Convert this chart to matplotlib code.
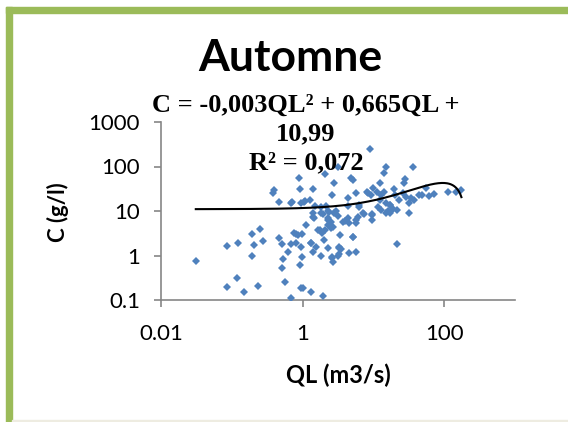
import numpy as np
import matplotlib
matplotlib.use("Agg")
import matplotlib.pyplot as plt
from matplotlib.patches import Rectangle

# ---- data ----
QL = [0.031, 0.086, 0.124, 0.086, 0.12, 0.151, 0.232, 0.191, 0.25, 0.206,
      0.276, 0.193, 0.464, 0.518, 0.528, 0.51, 0.557, 0.621, 0.693, 0.754,
      0.815, 0.99, 0.80, 0.96, 0.98, 0.92, 0.95, 1.02, 1.31, 0.69,
      1.96, 1.11, 1.30, 1.40, 1.56, 1.83, 1.44, 1.42, 1.83, 1.64,
      1.89, 1.98, 2.30, 2.56, 2.67, 2.27, 2.27, 2.50, 2.67, 2.82,
      3.18, 3.35, 3.24, 3.46, 3.18, 3.78, 4.49, 4.59, 5.76, 5.23,
      5.70, 6.01, 4.35, 2.35, 1.83, 2.16, 4.44, 4.35, 2.59, 2.82,
      1.40, 0.91, 0.94, 1.03, 1.26, 0.68, 0.46, 0.38, 0.40, 5.11,
      6.21, 7.23, 8.31, 9.46, 9.46, 9.78, 11.1, 11.5, 12.2, 12.8,
      14.3, 15.1, 15.1, 17.2, 18.7, 20.2, 23.2, 25.9, 27.3, 28.9,
      31.4, 31.4, 34.0, 43.5, 48.5, 55.2, 72.3, 115, 146, 175,
      21.3, 8.99, 15.1, 36.6, 3.21, 2.04, 0.88, 14.3, 27.9, 12.2,
      19.3, 2.25, 2.54, 3.91, 5.70, 7.47, 9.59, 3.32, 3.24, 2.59,
      1.40, 1.93, 1.74, 2.04, 5.11, 1.33, 0.86, 17.3, 15.9, 37.8,
      13.0, 21.8, 61.5, 5.70, 8.05, 9.28, 6.35, 0.716, 1.07, 1.48,
      2.32, 3.01, 17.3, 4.82]
C = [0.76, 1.63, 1.88, 0.20, 0.31, 0.15, 0.21, 2.99, 4.0, 1.72,
     2.15, 0.97, 2.51, 1.79, 0.83, 0.52, 0.25, 1.18, 1.79, 3.25,
     3.04, 3.04, 1.88, 1.58, 0.94, 0.62, 0.19, 0.19, 0.15, 0.11,
     0.123, 4.78, 1.94, 1.22, 1.58, 0.97, 7.06, 8.87, 9.16, 3.74,
     3.25, 2.23, 1.45, 0.86, 0.73, 4.84, 6.28, 5.75, 4.44, 8.87,
     7.73, 2.89, 1.45, 1.38, 0.97, 5.75, 5.29, 1.16, 1.18, 2.64,
     5.29, 7.45, 6.85, 9.35, 12.5, 12.9, 12.9, 19.3, 22.9, 43.3,
     30.8, 30.8, 14.9, 16.2, 17.7, 15.4, 16.2, 25.0, 29.6, 49.8,
     12.5, 9.16, 25.0, 8.43, 6.28, 32.4, 27.2, 12.1, 17.7, 22.9,
     27.2, 14.9, 8.87, 13.6, 10.9, 22.9, 17.7, 25.0, 41.9, 20.9,
     14.9, 8.87, 19.3, 22.9, 22.9, 32.4, 24.1, 27.2, 27.2, 29.6,
     1.81, 244, 95.9, 95.9, 99, 67.8, 56, 70.3, 51.6, 41.9,
     30.8, 6.97, 4.15, 5.88, 6.18, 8.69, 8.0, 1.55, 1.10, 0.92,
     7.33, 8.69, 3.68, 3.68, 2.61, 1.94, 2.85, 13.6, 10.0, 17.7,
     10.5, 10.5, 21.7, 25.0, 27.2, 22.9, 13.6, 15.7, 16.8, 12.9,
     10.0, 10.0, 9.0, 55.2]

trend_coef = [-0.00349, 0.665, 10.99]   # polynomial trendline (a, b, c)
x_ticks = [0.01, 1, 100]
x_tick_labels = ["0.01", "1", "100"]
y_ticks = [0.1, 1, 10, 100, 1000]
y_tick_labels = ["0.1", "1", "10", "100", "1000"]

title = "Automne"
eq_text = "C = -0,003QL² + 0,665QL +\n10,99\nR² = 0,072"
xlabel = "QL (m3/s)"
ylabel = "C (g/l)"

# ---- figure ----
W, H = 568, 422
fig = plt.figure(figsize=(W / 100, H / 100), dpi=100)
fig.patch.set_facecolor("white")

def fx(px):
    return px / W

def fy(py):
    return 1 - py / H

# outer frame (green), bottom beige line
green = "#9BBB59"
fig.patches.append(Rectangle((fx(6), 0), fx(12) - fx(6), fy(7) - 0,
                             transform=fig.transFigure, color=green, zorder=0))
fig.patches.append(Rectangle((fx(6), fy(12.5)), 1 - fx(6), fy(7) - fy(12.5),
                             transform=fig.transFigure, color=green, zorder=0))
fig.patches.append(Rectangle((fx(12), 0), 1 - fx(12), fy(420) - 0,
                             transform=fig.transFigure, color="#EEECE1", zorder=0))

ax = fig.add_axes([fx(161), fy(300), fx(515) - fx(161), fy(122) - fy(300)])
ax.set_facecolor("none")
ax.set_xscale("log")
ax.set_yscale("log")
ax.set_xlim(0.01, 1000)
ax.set_ylim(0.1, 1000)

ax.plot(QL, C, linestyle="none", marker="D", markersize=3.9,
        markerfacecolor="#4F81BD", markeredgewidth=0, color="#4F81BD", zorder=3)

qmin, qmax = min(QL), max(QL)
qq = np.logspace(np.log10(qmin), np.log10(qmax), 300)
cc = np.polyval(trend_coef, qq)
ax.plot(qq, cc, color="black", linewidth=1.5, zorder=4)

axis_gray = "#868686"
for s in ["top", "right"]:
    ax.spines[s].set_visible(False)
for s in ["left", "bottom"]:
    ax.spines[s].set_color(axis_gray)
    ax.spines[s].set_linewidth(1.2)

ax.set_xticks(x_ticks)
ax.set_xticklabels(x_tick_labels)
ax.set_yticks(y_ticks)
ax.set_yticklabels(y_tick_labels)
ax.minorticks_off()
ax.tick_params(axis="both", direction="out", length=5, width=1.2, color=axis_gray,
               labelsize=16, labelcolor="black")
ax.tick_params(axis="y", pad=10)
ax.tick_params(axis="x", pad=12)
for lab in ax.get_xticklabels() + ax.get_yticklabels():
    lab.set_family("Lato")

fig.text(fx(290), fy(58), title, ha="center", va="center",
         fontsize=32, fontweight="bold", family="Lato")
fig.text(fx(306), fy(134), eq_text, ha="center", va="center", multialignment="center",
         fontsize=19, fontweight="bold", family="Liberation Serif", linespacing=1.3)
fig.text(fx(338), fy(375), xlabel, ha="center", va="center",
         fontsize=17, fontweight="bold", family="Lato")
fig.text(fx(58), fy(212), ylabel, ha="center", va="center", rotation=90,
         fontsize=16, fontweight="bold", family="Lato")

fig.savefig("out.png", dpi=100, facecolor="white")
